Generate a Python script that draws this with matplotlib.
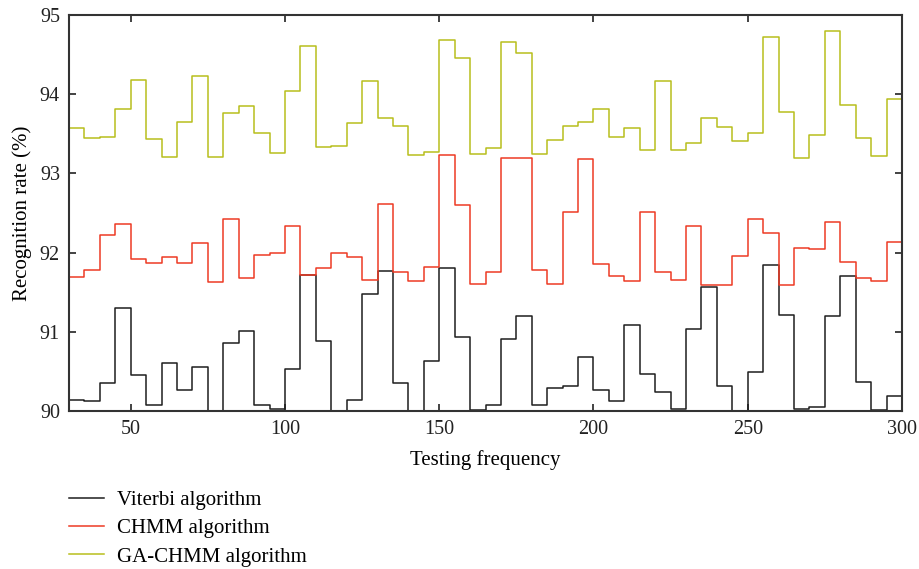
import matplotlib
matplotlib.use("Agg")
import matplotlib.pyplot as plt

plt.rcParams["font.family"] = ["Liberation Serif", "DejaVu Serif"]

# testing frequency (step edges), 30..300 every 5
frequency = list(range(30, 305, 5))

viterbi = [90.14, 90.13, 90.35, 91.30, 90.45, 90.08, 90.60, 90.27, 90.56, 90.00,
           90.86, 91.01, 90.08, 90.03, 90.53, 91.72, 90.89, 90.00, 90.14, 91.48,
           91.77, 90.35, 90.00, 90.63, 91.81, 90.93, 90.01, 90.08, 90.91, 91.20,
           90.08, 90.29, 90.31, 90.68, 90.27, 90.13, 91.08, 90.47, 90.24, 90.02,
           91.03, 91.57, 90.32, 90.00, 90.49, 91.84, 91.21, 90.03, 90.05, 91.20,
           91.71, 90.36, 90.01, 90.19, 90.19]

chmm = [91.69, 91.78, 92.22, 92.36, 91.92, 91.87, 91.94, 91.87, 92.12, 91.63,
        92.43, 91.68, 91.97, 92.00, 92.34, 91.72, 91.80, 91.99, 91.95, 91.66,
        92.62, 91.76, 91.64, 91.82, 93.23, 92.60, 91.60, 91.76, 93.20, 93.20,
        91.78, 91.60, 92.51, 93.18, 91.86, 91.70, 91.64, 92.51, 91.76, 91.66,
        92.33, 91.59, 91.59, 91.96, 92.43, 92.25, 91.59, 92.06, 92.05, 92.39,
        91.88, 91.68, 91.64, 92.13, 92.31]

ga_chmm = [93.57, 93.45, 93.46, 93.81, 94.18, 93.44, 93.21, 93.65, 94.23, 93.21,
           93.76, 93.85, 93.51, 93.26, 94.04, 94.61, 93.33, 93.35, 93.64, 94.17,
           93.70, 93.60, 93.23, 93.27, 94.69, 94.46, 93.24, 93.32, 94.66, 94.52,
           93.24, 93.42, 93.60, 93.65, 93.81, 93.46, 93.57, 93.30, 94.17, 93.29,
           93.38, 93.70, 93.58, 93.41, 93.51, 94.72, 93.78, 93.20, 93.48, 94.80,
           93.87, 93.45, 93.22, 93.94, 93.45]

x_ticks = [50, 100, 150, 200, 250, 300]
y_ticks = [90, 91, 92, 93, 94, 95]

fig = plt.figure(figsize=(9.19, 5.69), dpi=100)
ax = fig.add_axes([0.0751, 0.2777, 0.9064, 0.6959])

l1, = ax.step(frequency, viterbi, where="post", color="#1e1e1e", lw=1.1, label="Viterbi algorithm")
l2, = ax.step(frequency, chmm, where="post", color="#ee3a24", lw=1.1, label="CHMM algorithm")
l3, = ax.step(frequency, ga_chmm, where="post", color="#b8be1c", lw=1.1, label="GA-CHMM algorithm")

ax.set_xlim(30, 300)
ax.set_ylim(90, 95)
ax.set_xticks(x_ticks)
ax.set_yticks(y_ticks)
ax.tick_params(direction="in", length=5, width=1.2, top=True, right=True,
               labelsize=14.5, colors="#222222", pad=6.5)
for s in ax.spines.values():
    s.set_linewidth(1.5)
    s.set_color("#333333")

ax.set_xlabel("Testing frequency", fontsize=15, labelpad=8)
ax.set_ylabel("Recognition rate (%)", fontsize=15, labelpad=6)

# legend sits below the axes, outside the plot
fig.legend(handles=[l1, l2, l3], loc="upper left", bbox_to_anchor=(0.0751, 0.138),
           frameon=False, fontsize=15, handlelength=1.7, handletextpad=0.6,
           labelspacing=0.42, borderaxespad=0, borderpad=0)

fig.savefig("out.png", dpi=100)
